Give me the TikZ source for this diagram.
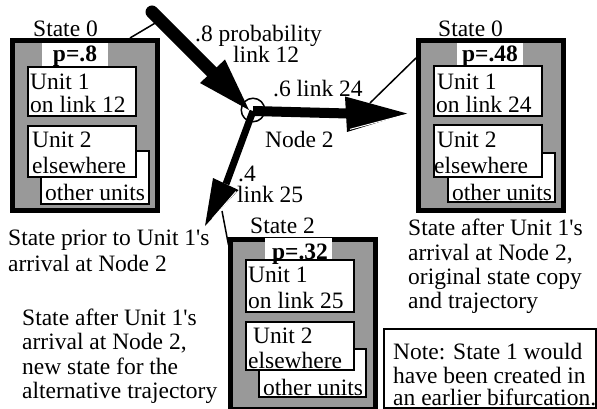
\documentclass[tikz,border=0pt]{standalone}
\usepackage{fontspec}
\setmainfont{Liberation Serif}[Ligatures=TeXOff]
\usetikzlibrary{calc}
\definecolor{boxgray}{gray}{0.6}
\begin{document}
\begin{tikzpicture}[x=1pt,y=-1pt,
  txt/.style={font=\fontsize{23.5}{25}\selectfont, inner sep=0pt, anchor=base west},
  ptxt/.style={font=\fontsize{23.5}{25}\selectfont\bfseries, inner sep=0pt, anchor=base},
  outerbox/.style={draw, line width=5pt, fill=boxgray, inner sep=0pt, minimum width=145pt, minimum height=170pt},
  unitbox/.style={draw, line width=2pt, fill=white},
  labelbg/.style={fill=white},
  thinline/.style={line width=1.5pt},
  head/.style={fill=black},
  hint/.style={white, line width=1pt}
]
\useasboundingbox (0,0) rectangle (597,409);

% ---------- outer state boxes ----------
\node[outerbox] (L) at (85,125.5) {};
\node[outerbox] (R) at (491,125.5) {};
\node[outerbox] (B) at (302.5,324.5) {};

% ---------- left box contents ----------
\fill[labelbg] (42,43) rectangle (108,66);
\draw[unitbox] (41,151) rectangle (149,204);
\draw[unitbox] (28,126) rectangle (136,177);
\draw[unitbox] (28,67) rectangle (136,116);
\node[txt] (Ls) at (33,37) {State 0};
\node[ptxt] (Lp) at (75,62) {p=.8};
\node[txt] (Lu1) at (30,90) {Unit 1};
\node[txt] (Lu1b) at (30,113) {on link 12};
\node[txt] (Lu2) at (32,147) {Unit 2};
\node[txt] (Lu2b) at (32,173) {elsewhere};
\node[txt] (Lo) at (45,200) {other units};

% ---------- right box contents ----------
\fill[labelbg] (457,43) rectangle (523,65);
\draw[unitbox] (448,153) rectangle (555,202);
\draw[unitbox] (434,125) rectangle (542,177);
\draw[unitbox] (434,66) rectangle (542,116);
\node[txt] (Rs) at (438,37) {State 0};
\node[ptxt] (Rp) at (490,62) {p=.48};
\node[txt] (Ru1) at (437,90) {Unit 1};
\node[txt] (Ru1b) at (436,113) {on link 24};
\node[txt] (Ru2) at (437,147) {Unit 2};
\node[txt] (Ru2b) at (434,173) {elsewhere};
\node[txt] (Ro) at (452,200) {other units};

% ---------- bottom box contents ----------
\fill[labelbg] (265,238) rectangle (332,259);
\draw[unitbox] (259,349) rectangle (366,397);
\draw[unitbox] (246,322) rectangle (354,370);
\draw[unitbox] (246,260) rectangle (354,312);
\node[txt] (Bs) at (250,233) {State 2};
\node[ptxt] (Bp) at (300,259) {p=.32};
\node[txt] (Bu1) at (248,282) {Unit 1};
\node[txt] (Bu1b) at (248,308) {on link 25};
\node[txt] (Bu2) at (253,343) {Unit 2};
\node[txt] (Bu2b) at (248,368) {elsewhere};
\node[txt] (Bo) at (263,395) {other units};

% ---------- links ----------
\coordinate (s12) at (152,12);
\coordinate (n2c) at (253,111);
\coordinate (t12) at (249,110);
\coordinate (b12) at (212,72);
\coordinate (t24) at (407,113.5);
\coordinate (b24) at (348,113.5);
\coordinate (t25) at (205,226);
\coordinate (b25) at (226,184);

% link 12
\draw[line width=13pt, line cap=round] (s12) -- (b12);
\fill[head] (200,83) -- (225,59.5) -- (t12) -- cycle;
% link 24
\draw[line width=10pt] (n2c) -- (b24);
\fill[head] (345,96.5) -- (t24) -- (347,132) -- cycle;
\draw[hint] (350,129.3) -- (403,115.3);
% link 25
\draw[line width=7pt] (n2c) -- (b25);
\fill[head] (213,178) -- (238.5,190) -- (t25) -- cycle;
\draw[hint] (236,191.5) -- (212.5,218.5);

\node[circle, draw, line width=1.5pt, minimum size=23.5pt, inner sep=0pt] (n2) at (253,110) {};

% ---------- thin leader lines ----------
\coordinate (c12) at (157,22);
\coordinate (c24) at (370,103);
\coordinate (c25) at (222,211);
\draw[thinline] ($(L.north west)+(120,0)$) -- (c12);
\draw[thinline] (c24) -- ($(R.north west)+(0,20)$);
\draw[thinline] (c25) -- ($(B.north west)+(1,8)$);

% ---------- link labels ----------
\node[txt] (l12a) at (195,42) {.8 probability};
\node[txt] (l12b) at (233,63) {link 12};
\node[txt] (l24) at (273,97) {.6 link 24};
\node[txt] (nd2) at (265,147) {Node 2};
\node[txt] (l25a) at (238,181) {.4};
\node[txt] (l25b) at (237,202) {link 25};

% ---------- captions ----------
\node[txt] (cp1) at (8,245) {State prior to Unit 1's};
\node[txt] (cp2) at (8,271) {arrival at Node 2};

\node[txt] (ca1) at (22,325) {State after Unit 1's};
\node[txt] (ca2) at (22,349.5) {arrival at Node 2,};
\node[txt] (ca3) at (22,374) {new state for the};
\node[txt] (ca4) at (22,398.5) {alternative trajectory};

\node[txt] (cr1) at (408,235) {State after Unit 1's};
\node[txt] (cr2) at (408,260) {arrival at Node 2,};
\node[txt] (cr3) at (408,284.5) {original state copy};
\node[txt] (cr4) at (408,308) {and trajectory};

% ---------- note ----------
\node[draw, line width=2pt, inner sep=0pt, minimum width=212pt, minimum height=79pt] (note) at (490,368.5) {};
\node[txt] (nt1) at (393,359) {Note: State 1 would};
\node[txt] (nt2) at (393,383) {have been created in};
\node[txt] (nt3) at (393,405.5) {an earlier bifurcation.};
\end{tikzpicture}
\end{document}
